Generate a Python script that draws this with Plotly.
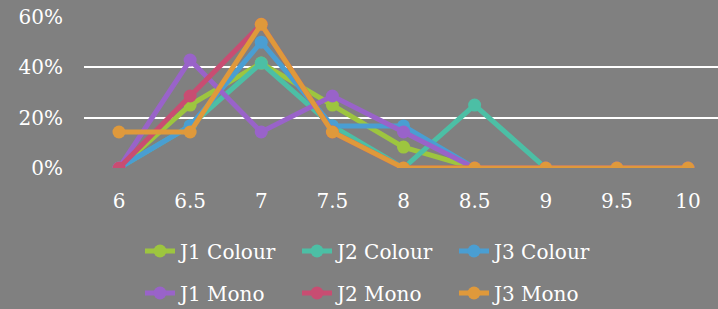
import plotly.graph_objects as go

categories = ["6", "6.5", "7", "7.5", "8", "8.5", "9", "9.5", "10"]
j1_colour = [0, 0.25, 0.417, 0.25, 0.083, 0, 0, 0, 0]
j2_colour = [0, 0.167, 0.417, 0.167, 0, 0.25, 0, 0, 0]
j3_colour = [0, 0.167, 0.5, 0.167, 0.167, 0, 0, 0, 0]
j1_mono = [0, 0.429, 0.143, 0.286, 0.143, 0, 0, 0, 0]
j2_mono = [0, 0.286, 0.571, 0.143, 0, 0, 0, 0, 0]
j3_mono = [0.143, 0.143, 0.571, 0.143, 0, 0, 0, 0, 0]

series = [
    ("J1 Colour", j1_colour, "#9DC53F", "legend"),
    ("J2 Colour", j2_colour, "#4CBFA5", "legend"),
    ("J3 Colour", j3_colour, "#4A9ED2", "legend"),
    ("J1 Mono", j1_mono, "#9963C9", "legend2"),
    ("J2 Mono", j2_mono, "#C84D72", "legend2"),
    ("J3 Mono", j3_mono, "#DF993B", "legend2"),
]

fig = go.Figure()
for name, vals, col, lg in series:
    fig.add_trace(go.Scatter(
        x=categories, y=vals, name=name, mode="lines+markers", legend=lg,
        line=dict(color=col, width=5), marker=dict(color=col, size=13),
    ))

font = "DejaVu Serif"
leg_common = dict(
    orientation="h", xanchor="left", xref="container",
    yref="container", yanchor="middle",
    entrywidth=112, entrywidthmode="pixels",
    font=dict(size=20, color="white", family=font), bgcolor="rgba(0,0,0,0)",
    traceorder="normal",
)
fig.update_layout(
    width=718, height=309,
    paper_bgcolor="#808080", plot_bgcolor="#808080",
    margin=dict(l=84, r=0, t=17, b=141, autoexpand=False),
    font=dict(family=font, color="white", size=20),
    showlegend=True,
    legend=dict(leg_common, x=140 / 718, y=1 - 251 / 309),
    legend2=dict(leg_common, x=140 / 718, y=1 - 293 / 309),
    xaxis=dict(type="category", range=[-0.492, 8.422], showgrid=False, zeroline=False,
               showline=False, ticks="", tickfont=dict(size=20),
               ticklabelstandoff=19),
    yaxis=dict(range=[0, 0.6], tickvals=[0, 0.2, 0.4, 0.6], tickformat=".0%",
               showgrid=True, gridcolor="white", gridwidth=2, zeroline=False,
               ticks="", tickfont=dict(size=20), ticklabelstandoff=20),
)
fig.write_html("out.html", config={"displayModeBar": False},
               post_script="document.body.style.margin='0';document.body.style.background='#808080';")
